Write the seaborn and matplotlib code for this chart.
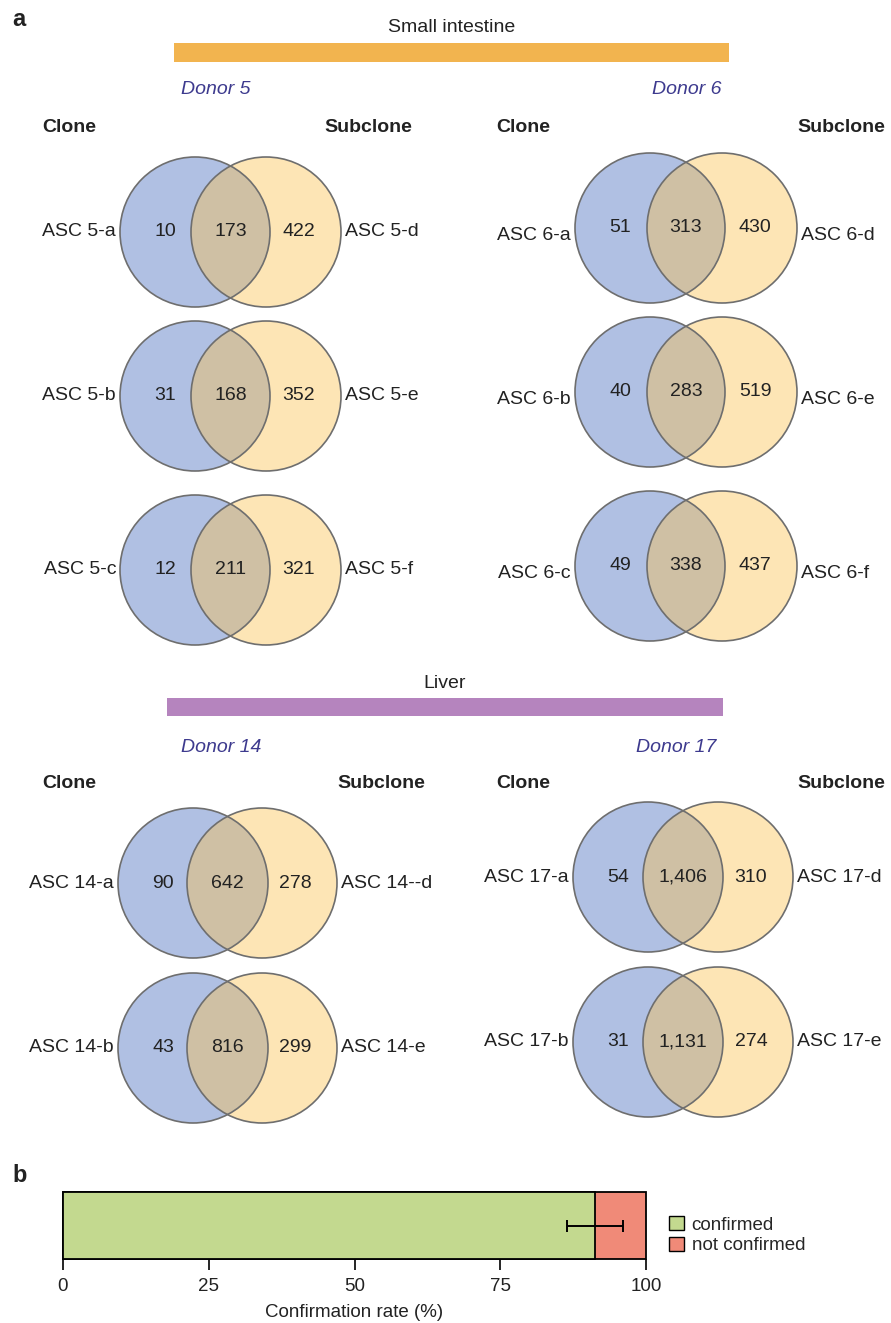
import matplotlib
matplotlib.use("Agg")
import matplotlib.pyplot as plt
from matplotlib.patches import Circle, Rectangle, Patch
import numpy as np
import pandas as pd
import seaborn as sns

# ---------------- data ----------------
# Small intestine, donor 5
d5_clone = ["ASC 5-a", "ASC 5-b", "ASC 5-c"]
d5_sub = ["ASC 5-d", "ASC 5-e", "ASC 5-f"]
d5_clone_only = [10, 31, 12]
d5_shared = [173, 168, 211]
d5_sub_only = [422, 352, 321]

# Small intestine, donor 6
d6_clone = ["ASC 6-a", "ASC 6-b", "ASC 6-c"]
d6_sub = ["ASC 6-d", "ASC 6-e", "ASC 6-f"]
d6_clone_only = [51, 40, 49]
d6_shared = [313, 283, 338]
d6_sub_only = [430, 519, 437]

# Liver, donor 14
d14_clone = ["ASC 14-a", "ASC 14-b"]
d14_sub = ["ASC 14--d", "ASC 14-e"]
d14_clone_only = [90, 43]
d14_shared = [642, 816]
d14_sub_only = [278, 299]

# Liver, donor 17
d17_clone = ["ASC 17-a", "ASC 17-b"]
d17_sub = ["ASC 17-d", "ASC 17-e"]
d17_clone_only = [54, 31]
d17_shared = [1406, 1131]
d17_sub_only = [310, 274]

# Panel b
conf_labels = ["confirmed", "not confirmed"]
conf_mean = 91.2
conf_err = 4.8
conf_total = 100
conf_ticks = [0, 25, 50, 75, 100]

# ---------------- style ----------------
sns.set_theme(style="white")
plt.rcParams["font.family"] = ["Liberation Sans", "DejaVu Sans"]

BLUE = "#B0C0E3"
YELLOW = "#FDE5B5"
OVERLAP = "#CFC0A4"
EDGE = "#6E6E6E"
ORANGE = "#F2B44F"
PURPLE = "#B584BE"
DONOR = "#3D3A8E"
GREEN = "#C3D98F"
RED = "#F08A78"
TXT = "#222222"

W, H = 891, 1323
fig = plt.figure(figsize=(W / 100, H / 100), dpi=100)
fig.patch.set_facecolor("white")

ax = fig.add_axes([0, 0, 1, 1])
ax.set_xlim(0, W)
ax.set_ylim(H, 0)
ax.axis("off")

R = 75


def venn(bx, yx, cy, n_left, n_mid, n_right, lab_left, lab_right, lab_dy=0):
    blue = Circle((bx, cy), R, fc=BLUE, ec="none", zorder=1)
    ax.add_patch(blue)
    ax.add_patch(Circle((yx, cy), R, fc=YELLOW, ec="none", zorder=1))
    inter = Circle((yx, cy), R, fc=OVERLAP, ec="none", zorder=2)
    ax.add_patch(inter)
    inter.set_clip_path(blue)
    for x in (bx, yx):
        ax.add_patch(Circle((x, cy), R, fill=False, ec=EDGE, lw=1.2, zorder=3))
    kw = dict(fontsize=14, color=TXT, va="center", zorder=4)
    ax.text(bx - 30, cy, f"{n_left:,}", ha="center", **kw)
    ax.text((bx + yx) / 2, cy, f"{n_mid:,}", ha="center", **kw)
    ax.text(yx + 33, cy, f"{n_right:,}", ha="center", **kw)
    ax.text(bx - R - 4, cy + lab_dy, lab_left, ha="right", **kw)
    ax.text(yx + R + 4, cy + lab_dy, lab_right, ha="left", **kw)


def tissue_header(title, x0, x1, y_title, y_bar, bar_h, color):
    ax.text((x0 + x1) / 2, y_title, title, ha="center", va="center",
            fontsize=14, color=TXT)
    ax.add_patch(Rectangle((x0, y_bar), x1 - x0, bar_h, fc=color, ec="none"))


def col_header(y, xs_clone, xs_sub):
    for x in xs_clone:
        ax.text(x, y, "Clone", ha="left", va="center", fontsize=14,
                fontweight="bold", color=TXT)
    for x in xs_sub:
        ax.text(x, y, "Subclone", ha="right", va="center", fontsize=14,
                fontweight="bold", color=TXT)


# panel label a
ax.text(12, 20, "a", fontsize=17, fontweight="bold", ha="left", va="center",
        color=TXT)

# Small intestine block
tissue_header("Small intestine", 174, 729, 28, 43, 19, ORANGE)
ax.text(181, 90, "Donor 5", style="italic", fontsize=14, color=DONOR,
        ha="left", va="center")
ax.text(721, 90, "Donor 6", style="italic", fontsize=14, color=DONOR,
        ha="right", va="center")
col_header(128, [42, 496], [412, 885])

rows_5 = [232, 396, 570]
for i, cy in enumerate(rows_5):
    venn(195, 266, cy, d5_clone_only[i], d5_shared[i], d5_sub_only[i],
         d5_clone[i], d5_sub[i])

rows_6 = [228, 392, 566]
for i, cy in enumerate(rows_6):
    venn(650, 722, cy, d6_clone_only[i], d6_shared[i], d6_sub_only[i],
         d6_clone[i], d6_sub[i], lab_dy=8)

# Liver block
tissue_header("Liver", 167, 723, 683, 698, 18, PURPLE)
ax.text(181, 747, "Donor 14", style="italic", fontsize=14, color=DONOR,
        ha="left", va="center")
ax.text(716, 747, "Donor 17", style="italic", fontsize=14, color=DONOR,
        ha="right", va="center")
col_header(783, [42, 496], [425, 885])

rows_14 = [883, 1048]
for i, cy in enumerate(rows_14):
    venn(193, 262, cy, d14_clone_only[i], d14_shared[i], d14_sub_only[i],
         d14_clone[i], d14_sub[i])

rows_17 = [877, 1042]
for i, cy in enumerate(rows_17):
    venn(648, 718, cy, d17_clone_only[i], d17_shared[i], d17_sub_only[i],
         d17_clone[i], d17_sub[i])

# ---------------- panel b ----------------
ax.text(12, 1175, "b", fontsize=17, fontweight="bold", ha="left", va="center",
        color=TXT)

bar_left, bar_right = 63, 646
bar_top, bar_bot = 1192, 1259
ax_b = fig.add_axes([bar_left / W, 1 - bar_bot / H,
                     (bar_right - bar_left) / W, (bar_bot - bar_top) / H])

df = pd.DataFrame({"group": ["rate"], "total": [conf_total],
                   "confirmed": [conf_mean]})
sns.barplot(data=df, x="total", y="group", color=RED, saturation=1,
            width=1.0, edgecolor="black", linewidth=1.3, ax=ax_b, orient="h")
sns.barplot(data=df, x="confirmed", y="group", color=GREEN, saturation=1,
            width=1.0, edgecolor="black", linewidth=1.3, ax=ax_b, orient="h")
for p in ax_b.patches:
    p.set_clip_on(False)
ax_b.errorbar(conf_mean, 0, xerr=conf_err, color="black", lw=1.4,
              capsize=4, capthick=1.4, zorder=5)

ax_b.set_xlim(0, conf_total)
ax_b.set_ylim(0.5, -0.5)
ax_b.set_yticks([])
ax_b.set_ylabel("")
ax_b.set_xticks(conf_ticks)
ax_b.set_xticklabels([str(t) for t in conf_ticks])
ax_b.tick_params(axis="x", length=8, width=1.2, color="black", labelsize=13.5,
                 pad=6, bottom=True, labelcolor=TXT)
ax_b.set_xlabel("Confirmation rate (%)", fontsize=13.5, color=TXT, labelpad=6)
for s in ax_b.spines.values():
    s.set_visible(False)

handles = [Patch(fc=GREEN, ec="black", lw=1.0, label=conf_labels[0]),
           Patch(fc=RED, ec="black", lw=1.0, label=conf_labels[1])]
fig.legend(handles=handles, loc="upper left",
           bbox_to_anchor=(669 / W, 1 - 1216 / H), bbox_transform=fig.transFigure,
           frameon=False, fontsize=13.5, handlelength=0.8, handleheight=0.8,
           handletextpad=0.4, labelspacing=0.15, borderpad=0, borderaxespad=0)

fig.savefig("out.png", dpi=100, facecolor="white")
